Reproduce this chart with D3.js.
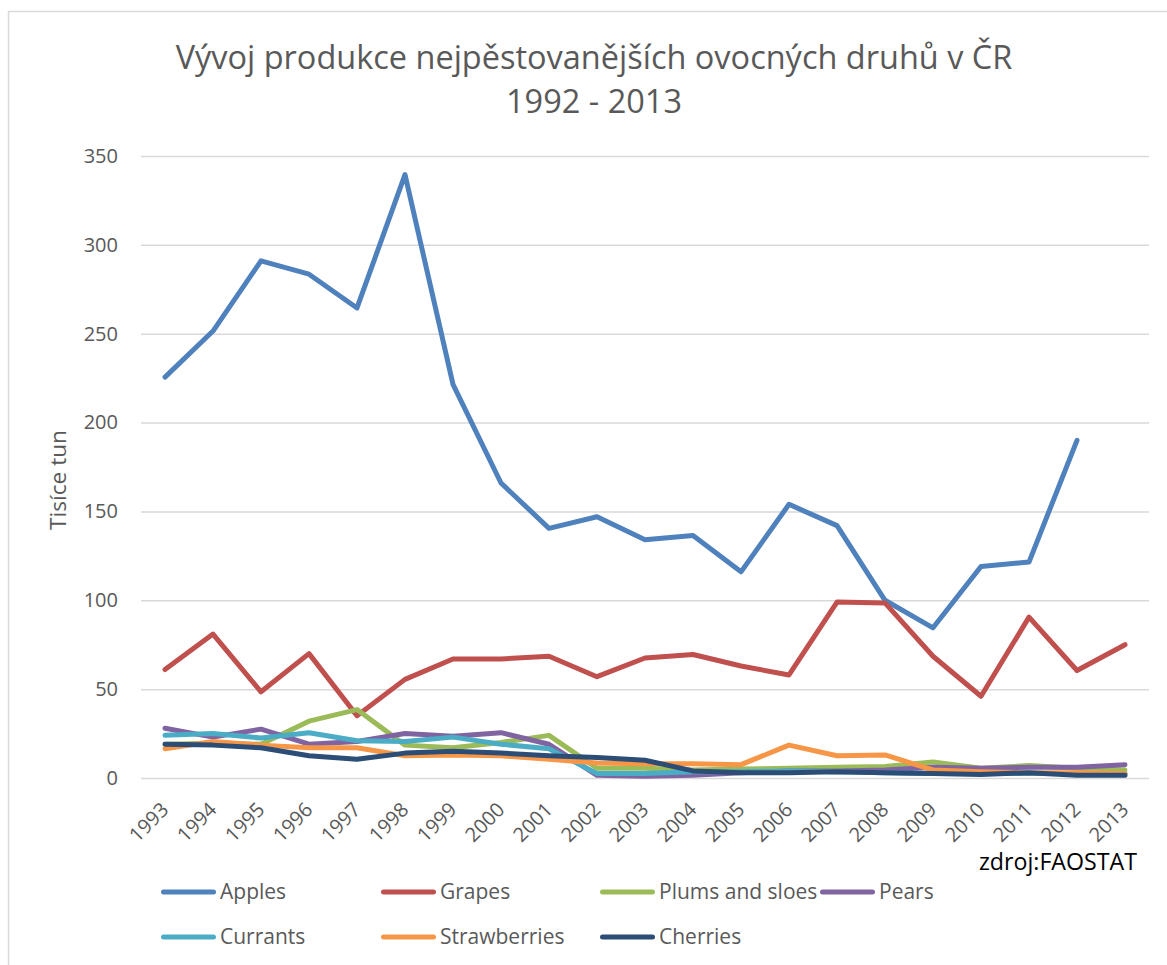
<!DOCTYPE html>
<html>
<head>
<meta charset="utf-8">
<script src="https://cdn.jsdelivr.net/npm/d3@7"></script>
<style>
  body { margin: 0; background: #fff; }
  text { font-family: "Open Sans", sans-serif; fill: #595959; }
</style>
</head>
<body>
<svg id="chart" width="1167" height="965"></svg>
<script>
const years = ['1993', '1994', '1995', '1996', '1997', '1998', '1999', '2000', '2001', '2002', '2003',
               '2004', '2005', '2006', '2007', '2008', '2009', '2010', '2011', '2012', '2013'];

// tisice tun
const apples = [225.6, 251.5, 291, 283.5, 264.5, 339.5, 221.5, 166, 140.5, 147, 134,
                136.5, 116, 154, 142, 100, 84.5, 119, 121.5, 190, null];
const grapes = [61, 81, 48.5, 70, 35, 55.5, 67, 67, 68.5, 57, 67.5,
                69.5, 63, 58, 99, 98.5, 68.5, 46, 90.5, 60.5, 75];
const plums = [19, 19.5, 19, 32, 38.5, 18.5, 17, 20, 24, 5.5, 5.5,
               4.5, 5, 5.5, 6, 6.5, 9, 5.5, 7, 5.5, 4.5];
const pears = [28, 23, 27.5, 19, 20.5, 25, 23.5, 25.5, 19, 1.5, 1,
               1.5, 3, 4, 4, 4.5, 6, 5.5, 6, 6, 7.5];
const currants = [24, 25, 22.5, 25.5, 21, 20.5, 23, 19, 16.5, 2.5, 2.5,
                  3.5, 3.5, 4, 3.5, 3, 2.5, 2.5, 2.5, 2.5, 2.5];
const strawberries = [16.5, 20.5, 18.5, 17, 17, 12.5, 13, 12.5, 10.5, 8.5, 8,
                      8, 7.5, 18.5, 12.5, 13, 4.5, 3.5, 3, 3, 2.5];
const cherries = [19, 18.5, 17, 12.5, 10.5, 14, 15, 14, 12.5, 11.5, 10,
                  4, 3, 3, 3.5, 3, 2.5, 2, 3, 1.5, 1.5];

const yTicks = [0, 50, 100, 150, 200, 250, 300, 350];

const seriesNames = ['Apples', 'Grapes', 'Plums and sloes', 'Pears', 'Currants', 'Strawberries', 'Cherries'];
const seriesValues = [apples, grapes, plums, pears, currants, strawberries, cherries];
const seriesColors = ['#4f81bd', '#c0504d', '#9bbb59', '#8064a2', '#4bacc6', '#f79646', '#2c4d75'];

const plotLeft = 141;
const plotRight = 1149;
const plotTop = 156;
const plotBottom = 778;

const svg = d3.select('#chart');

// chart area outline
svg.append('rect')
   .attr('x', 8.5).attr('y', 11.5)
   .attr('width', 1200).attr('height', 1000)
   .attr('fill', 'none')
   .attr('stroke', '#d9d9d9')
   .attr('stroke-width', 1.5);

const x = d3.scalePoint()
            .domain(years)
            .range([plotLeft, plotRight])
            .padding(0.5);
const y = d3.scaleLinear()
            .domain([0, 350])
            .range([plotBottom, plotTop]);

function fitWidth(sel, w) {
  const len = sel.node().getComputedTextLength();
  const fs = parseFloat(sel.attr('font-size'));
  sel.attr('font-size', fs * w / len);
}

// title
const t1 = svg.append('text')
   .attr('x', 594).attr('y', 69)
   .attr('text-anchor', 'middle')
   .attr('font-size', 32)
   .text('Vývoj produkce nejpěstovanějších ovocných druhů v ČR');
fitWidth(t1, 837);
const t2 = svg.append('text')
   .attr('x', 594).attr('y', 113)
   .attr('text-anchor', 'middle')
   .attr('font-size', 32)
   .text('1992 - 2013');
fitWidth(t2, 176);

// grid
const grid = svg.append('g')
   .attr('transform', `translate(${plotLeft},0)`)
   .call(d3.axisLeft(y)
           .tickValues(yTicks)
           .tickSize(-(plotRight - plotLeft))
           .tickFormat(''));
grid.select('.domain').remove();
grid.selectAll('line').attr('stroke', '#d9d9d9').attr('stroke-width', 1.5);

// y labels
const yAxis = svg.append('g')
   .attr('transform', `translate(${plotLeft},0)`)
   .call(d3.axisLeft(y)
           .tickValues(yTicks)
           .tickSize(0)
           .tickPadding(23));
yAxis.select('.domain').remove();
yAxis.selectAll('text')
     .attr('font-size', 20)
     .attr('font-family', '"Open Sans", sans-serif')
     .style('fill', '#595959');

// y title
const yt = svg.append('text')
   .attr('transform', 'translate(66,480) rotate(-90)')
   .attr('text-anchor', 'middle')
   .attr('font-size', 22)
   .text('Tisíce tun');
fitWidth(yt, 100);

// x labels
svg.append('g')
   .selectAll('text')
   .data(years)
   .enter()
   .append('text')
   .attr('transform', (d) => `translate(${x(d)},806) rotate(-45)`)
   .attr('text-anchor', 'end')
   .attr('dy', '0.35em')
   .attr('font-size', 20)
   .text((d) => d);

// lines
const valueline = d3.line()
   .defined((d) => d != null)
   .x((d, i) => x(years[i]))
   .y((d) => y(d));

svg.append('g')
   .selectAll('path')
   .data(seriesValues)
   .enter()
   .append('path')
   .attr('d', (d) => valueline(d))
   .attr('fill', 'none')
   .attr('stroke', (d, i) => seriesColors[i])
   .attr('stroke-width', 5)
   .attr('stroke-linejoin', 'round')
   .attr('stroke-linecap', 'round');

// source
const src = svg.append('text')
   .attr('x', 979).attr('y', 870)
   .attr('font-size', 22)
   .style('fill', '#000')
   .text('zdroj:FAOSTAT');
fitWidth(src, 158);

// legend
const legendCols = [161, 381, 600, 820];
const legendRows = [892, 937];
const legend = svg.append('g')
   .selectAll('g')
   .data(seriesNames)
   .enter()
   .append('g')
   .attr('transform', (d, i) => `translate(${legendCols[i % 4]},${legendRows[Math.floor(i / 4)]})`);
legend.append('line')
   .attr('x1', 2.5).attr('x2', 52.5)
   .attr('stroke', (d, i) => seriesColors[i])
   .attr('stroke-width', 5)
   .attr('stroke-linecap', 'round');
legend.append('text')
   .attr('x', 59)
   .attr('dy', '0.35em')
   .attr('font-size', 21)
   .text((d) => d);
</script>
</body>
</html>
